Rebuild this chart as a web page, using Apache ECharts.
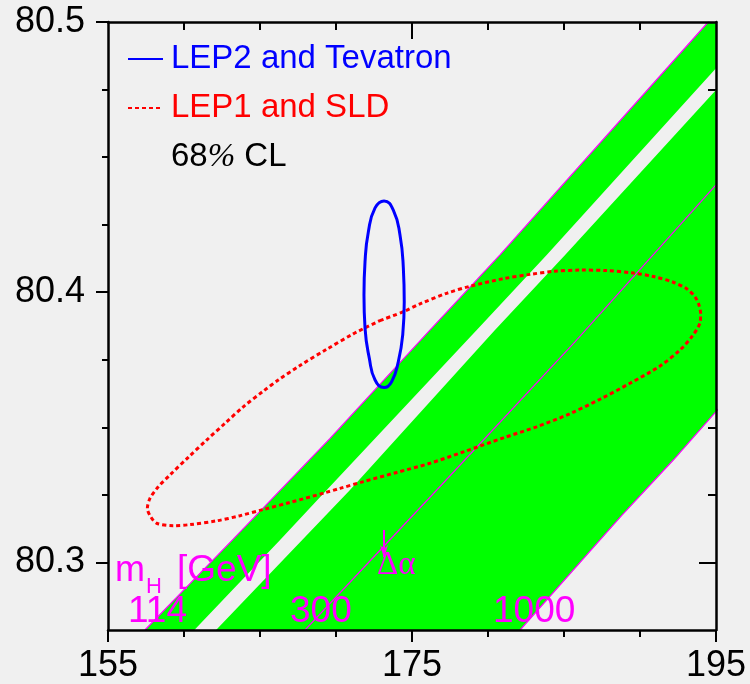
<!DOCTYPE html>
<html><head><meta charset="utf-8">
<script src="https://cdn.jsdelivr.net/npm/echarts@6/dist/echarts.min.js"></script>
<style>html,body{margin:0;padding:0;background:#f0f0f0}#c{width:750px;height:684px}</style>
</head><body><div id="c"></div>
<script>
// ---- data ----
const xTickLabels = [155, 175, 195];
const xMinorTicks = [160, 165, 170, 180, 185, 190];
const yTickLabels = [80.3, 80.4, 80.5];
const yMinorTicks = [80.325, 80.35, 80.375, 80.425, 80.45, 80.475];

// SM band edges (mt [GeV], mW [GeV])
const mH114Line = [[157.43, 80.275], [163.24, 80.3086], [169.61, 80.3459], [176.18, 80.3860], [180.79, 80.4138], [194.49, 80.5], [196.0, 80.5095]];
const mH300Line = [[167.96, 80.275], [176.63, 80.3268], [185.72, 80.3816], [195.0, 80.4397]];
const mH1000Line = [[182.11, 80.275], [188.80, 80.3174], [192.19, 80.3379], [195.0, 80.3558], [196.0, 80.3623]];
const gapUpperEdge = [[160.68, 80.275], [166.32, 80.3083], [169.39, 80.3268], [179.26, 80.3860], [183.86, 80.4138], [195.0, 80.4829], [196.0, 80.4891]];
const gapLowerEdge = [[162.11, 80.275], [170.92, 80.3268], [180.46, 80.3860], [185.07, 80.4138], [195.0, 80.4748], [196.0, 80.4810]];

// 68% CL contours
const lep2TevatronContour = [[171.84, 80.3990], [171.91, 80.4113], [172.13, 80.4224], [172.57, 80.4312], [173.16, 80.4338], [173.77, 80.4304], [174.21, 80.4212], [174.43, 80.4090], [174.49, 80.3965], [174.39, 80.3842], [174.10, 80.3743], [173.66, 80.3669], [173.16, 80.3647], [172.57, 80.3675], [172.19, 80.3756], [171.91, 80.3867], [171.84, 80.3990]];
const lep1SldContour = [[172.89, 80.3895], [174.43, 80.3928], [175.53, 80.3957], [177.28, 80.3996], [178.82, 80.4022], [181.01, 80.4050], [182.76, 80.4066], [184.30, 80.4077], [186.05, 80.4082], [187.81, 80.4080], [189.56, 80.4071], [190.88, 80.4058], [192.19, 80.4037], [193.07, 80.4013], [193.62, 80.3983], [193.88, 80.3953], [193.99, 80.3919], [193.95, 80.3887], [193.40, 80.3835], [192.63, 80.3786], [191.32, 80.3727], [189.34, 80.3663], [187.37, 80.3604], [185.33, 80.3549], [183.20, 80.3502], [181.01, 80.3461], [178.38, 80.3409], [176.18, 80.3367], [173.99, 80.3333], [171.80, 80.3299], [170.26, 80.3274], [169.28, 80.3258], [166.97, 80.3222], [165.22, 80.3196], [163.68, 80.3173], [162.15, 80.3154], [160.39, 80.3140], [159.30, 80.3136], [158.20, 80.3145], [157.81, 80.3169], [157.59, 80.3200], [157.76, 80.3237], [158.31, 80.3280], [159.08, 80.3324], [160.28, 80.3389], [161.49, 80.3453], [162.70, 80.3515], [163.90, 80.3576], [165.22, 80.3634], [166.20, 80.3675], [167.63, 80.3729], [169.39, 80.3789], [171.14, 80.3846], [172.89, 80.3895]];

const seriesNames = ['LEP2 and Tevatron', 'LEP1 and SLD', '68% CL'];
const mHLabels = ['114', '300', '1000'];
const mHTitle = ['m', 'H', '[GeV]'];
const deltaAlphaLabel = 'Δα';

// ---- chart ----
const FONT = 'Liberation Sans';
const BLACK = '#000';
const MAG = '#ff00ff';
const chart = echarts.init(document.getElementById('c'), null, {renderer: 'canvas'});

function xAx(position, opts) {
  return Object.assign({
    type: 'value', min: 155, max: 195, position: position,
    axisLine: {show: false, onZero: false, lineStyle: {color: BLACK, width: 2.5}},
    axisTick: {show: false},
    axisLabel: {show: false},
    splitLine: {show: false}
  }, opts);
}
function yAx(position, opts) {
  return Object.assign({
    type: 'value', min: 80.275, max: 80.5, position: position,
    axisLine: {show: false, onZero: false, lineStyle: {color: BLACK, width: 2.5}},
    axisTick: {show: false},
    axisLabel: {show: false},
    splitLine: {show: false}
  }, opts);
}
function ticks(values, len, inside) {
  return {show: true, customValues: values, length: len, inside: inside, lineStyle: {color: BLACK, width: 2}};
}

function bandRender(edgeA, edgeB) {
  return function (params, api) {
    const pts = edgeA.map(p => api.coord(p)).concat(edgeB.slice().reverse().map(p => api.coord(p)));
    return {type: 'polygon', shape: {points: pts}, style: {fill: '#00ff00'}};
  };
}

const option = {
  backgroundColor: '#f0f0f0',
  animation: false,
  grid: {left: 108, right: 34, top: 22, bottom: 54, containLabel: false},
  xAxis: [
    xAx('bottom', {z: 10, axisLine: {show: true, onZero: false, lineStyle: {color: BLACK, width: 2.5}},
      axisTick: ticks(xTickLabels, 12, false),
      axisLabel: {show: true, customValues: xTickLabels, margin: 18, color: BLACK, fontSize: 36, fontFamily: FONT}}),
    xAx('bottom', {axisTick: ticks(xMinorTicks, 7, false)}),
    xAx('top', {z: 10, axisLine: {show: true, onZero: false, lineStyle: {color: BLACK, width: 2.5}}}),
    xAx('top', {axisTick: ticks(xTickLabels.slice(1, -1), 17, true)}),
    xAx('top', {axisTick: ticks(xMinorTicks, 8, true)})
  ],
  yAxis: [
    yAx('left', {z: 10, axisLine: {show: true, onZero: false, lineStyle: {color: BLACK, width: 2.5}},
      axisTick: ticks(yTickLabels, 12, false),
      axisLabel: {show: true, customValues: yTickLabels, margin: 23, color: BLACK, fontSize: 36, fontFamily: FONT,
        formatter: v => Number(v).toFixed(1)}}),
    yAx('left', {axisTick: ticks(yMinorTicks, 6, false)}),
    yAx('right', {z: 10, axisLine: {show: true, onZero: false, lineStyle: {color: BLACK, width: 2.5}}}),
    yAx('right', {axisTick: ticks(yTickLabels.slice(0, -1), 17, true)}),
    yAx('right', {axisTick: ticks(yMinorTicks, 8, true)})
  ],
  legend: {
    left: 127, top: 39, orient: 'vertical', padding: 0, itemGap: 9,
    itemWidth: 35, itemHeight: 14, selectedMode: false,
    itemStyle: {opacity: 0},
    textStyle: {fontSize: 33, fontFamily: FONT, lineHeight: 40, padding: [0, 0, 0, 3],
      rich: {p: {fontFamily: 'Liberation Serif', fontStyle: 'italic', fontSize: 33, color: BLACK, lineHeight: 40}}},
    formatter: name => name === seriesNames[2] ? '68{p|%} CL' : name,
    data: [
      {name: seriesNames[0], textStyle: {color: '#0000ff'}},
      {name: seriesNames[1], textStyle: {color: '#ff0000'}},
      {name: seriesNames[2], icon: 'none', textStyle: {color: BLACK}}
    ]
  },
  series: [
    {type: 'custom', name: 'band114', clip: true, silent: true, z: 2, xAxisIndex: 0, yAxisIndex: 0,
      data: [mH114Line[0]], renderItem: bandRender(mH114Line, gapUpperEdge)},
    {type: 'custom', name: 'band1000', clip: true, silent: true, z: 2, xAxisIndex: 0, yAxisIndex: 0,
      data: [gapLowerEdge[0]], renderItem: bandRender(gapLowerEdge, mH1000Line)},
    {type: 'line', name: 'mH114', data: mH114Line, symbol: 'none', z: 3, clip: true, silent: true,
      lineStyle: {color: MAG, width: 1.2}},
    {type: 'line', name: 'mH300', data: mH300Line, symbol: 'none', z: 3, clip: true, silent: true,
      lineStyle: {color: MAG, width: 1.2}},
    {type: 'line', name: 'mH1000', data: mH1000Line, symbol: 'none', z: 3, clip: true, silent: true,
      lineStyle: {color: MAG, width: 1.2}},
    {type: 'line', name: seriesNames[1], data: lep1SldContour, symbol: 'none', smooth: 0.3, z: 4, silent: true,
      color: '#ff0000', lineStyle: {color: '#ff0000', width: 3, type: [4, 3]}},
    {type: 'line', name: seriesNames[0], data: lep2TevatronContour, symbol: 'none', smooth: 0.5, z: 5, silent: true,
      color: '#0000ff', lineStyle: {color: '#0000ff', width: 3}},
    {type: 'line', name: seriesNames[2], data: [], symbol: 'none', lineStyle: {width: 0, opacity: 0}}
  ],
  graphic: [
    {type: 'text', x: 115, y: 571, z: 20, silent: true, style: {text: mHTitle[0], font: '36px "Liberation Sans"', fill: MAG, textAlign: 'left', textVerticalAlign: 'middle'}},
    {type: 'text', x: 146, y: 587, z: 20, silent: true, style: {text: mHTitle[1], font: '22px "Liberation Sans"', fill: MAG, textAlign: 'left', textVerticalAlign: 'middle'}},
    {type: 'text', x: 177, y: 571, z: 20, silent: true, style: {text: mHTitle[2], font: '37px "Liberation Sans"', fill: MAG, textAlign: 'left', textVerticalAlign: 'middle'}},
    {type: 'text', x: 128, y: 612, z: 20, silent: true, style: {text: mHLabels[0], font: '37px "Liberation Sans"', fill: MAG, textAlign: 'left', textVerticalAlign: 'middle'}},
    {type: 'text', x: 290, y: 612, z: 20, silent: true, style: {text: mHLabels[1], font: '37px "Liberation Sans"', fill: MAG, textAlign: 'left', textVerticalAlign: 'middle'}},
    {type: 'text', x: 493, y: 612, z: 20, silent: true, style: {text: mHLabels[2], font: '37px "Liberation Sans"', fill: MAG, textAlign: 'left', textVerticalAlign: 'middle'}},
    {type: 'text', x: 377, y: 565, z: 20, silent: true, style: {text: deltaAlphaLabel, font: '33px "Liberation Serif"', fill: MAG, textAlign: 'left', textVerticalAlign: 'middle'}},
    {type: 'polyline', z: 20, silent: true, shape: {points: [[384, 530], [384, 557]]}, style: {stroke: MAG, lineWidth: 2, fill: null}},
    {type: 'polygon', z: 20, silent: true, shape: {points: [[380, 545], [384, 558], [388, 545], [384, 549]]}, style: {fill: MAG}}
  ]
};
chart.setOption(option);
</script>
</body></html>
